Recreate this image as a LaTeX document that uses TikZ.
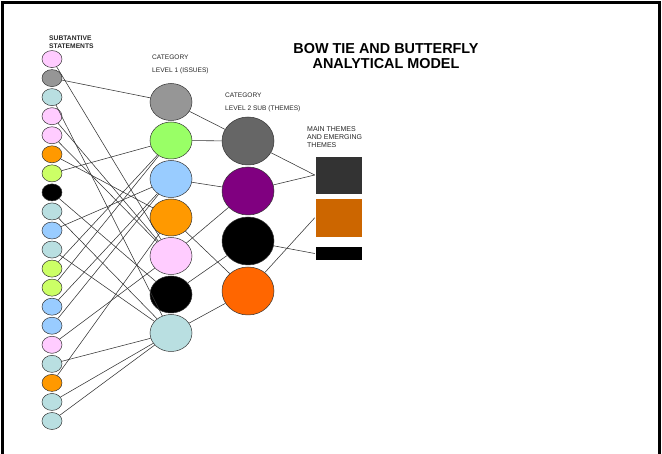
\documentclass[tikz,border=0pt]{standalone}
\usepackage{fontspec}
\setmainfont{Liberation Sans}
\usepackage{tikz}
\usetikzlibrary{positioning,shapes.geometric}
\definecolor{pinkc}{HTML}{FFCCFF}
\definecolor{grayc}{HTML}{969696}
\definecolor{tealc}{HTML}{B9DFE1}
\definecolor{orangec}{HTML}{FF9900}
\definecolor{ygc}{HTML}{CCFF66}
\definecolor{greenc}{HTML}{99FF66}
\definecolor{bluec}{HTML}{99CCFF}
\definecolor{dgrayc}{HTML}{666666}
\definecolor{purplec}{HTML}{800080}
\definecolor{redorc}{HTML}{FF6600}
\definecolor{darkc}{HTML}{333333}
\definecolor{brownc}{HTML}{CC6600}
\definecolor{linec}{HTML}{333333}

\begin{document}
\begin{tikzpicture}[x=1pt, y=-1pt,
  stmt/.style={ellipse, draw=linec, line width=0.5pt, minimum width=20pt, minimum height=17pt, inner sep=0pt},
  issue/.style={ellipse, draw=linec, line width=0.5pt, minimum width=42pt, minimum height=37pt, inner sep=0pt},
  theme/.style={ellipse, draw=linec, line width=0.5pt, minimum width=52pt, minimum height=48pt, inner sep=0pt},
  mainbox/.style={rectangle, draw=white, line width=0.5pt, minimum width=47pt, inner sep=0pt},
  lbl/.style={anchor=north west, align=left, inner sep=0pt, text=black!85},
  link/.style={draw=linec, line width=0.55pt}
]
\useasboundingbox (0,0) rectangle (662,454);
% frame
\draw[line width=3pt] (2,454) -- (2,3) -- (659,3) -- (659,454);

% title and headings
\node[align=center, font=\fontsize{14.4}{15}\selectfont\bfseries] (title) at (386,56) {BOW TIE AND BUTTERFLY\\ANALYTICAL MODEL};
\node[lbl, font=\fontsize{6.7}{7.7}\selectfont\bfseries] (hstmt) at (49,35.5) {SUBTANTIVE\\STATEMENTS};
\node[lbl, font=\fontsize{6.6}{12.7}\selectfont] (hiss) at (152,55) {CATEGORY\\LEVEL 1 (ISSUES)};
\node[lbl, font=\fontsize{6.6}{12.7}\selectfont] (hthm) at (225,93) {CATEGORY\\LEVEL 2 SUB (THEMES)};
\node[lbl, font=\fontsize{7}{8}\selectfont] (hmain) at (307,126.5) {MAIN THEMES\\AND EMERGING\\THEMES};

% substantive statements
\foreach \c [count=\i] in {pinkc,grayc,tealc,pinkc,pinkc,orangec,ygc,black,tealc,bluec,
                           tealc,ygc,ygc,bluec,bluec,pinkc,tealc,orangec,tealc,tealc}
  \node[stmt, fill=\c] (s\i) at (52,{40+19.05*\i}) {};

% level 1 (issues)
\node[issue, fill=grayc] (iss1) at (171,102) {};
\node[issue, fill=greenc, below=1pt of iss1] (iss2) {};
\node[issue, fill=bluec, below=1pt of iss2] (iss3) {};
\node[issue, fill=orangec, below=1pt of iss3] (iss4) {};
\node[issue, fill=pinkc, below=1pt of iss4] (iss5) {};
\node[issue, fill=black, below=1pt of iss5] (iss6) {};
\node[issue, fill=tealc, below=1pt of iss6] (iss7) {};

% level 2 (themes)
\node[theme, fill=dgrayc] (thm1) at (248,141) {};
\node[theme, fill=purplec, below=1.5pt of thm1] (thm2) {};
\node[theme, fill=black, below=1.5pt of thm2] (thm3) {};
\node[theme, fill=redorc, below=1.5pt of thm3] (thm4) {};

% main themes
\node[mainbox, fill=darkc, minimum height=38pt] (mt1) at (338.5,175) {};
\node[mainbox, fill=brownc, minimum height=38.5pt, below=4pt of mt1] (mt2) {};
\node[mainbox, fill=black, minimum height=14pt, below=9pt of mt2] (mt3) {};

% links
\foreach \a/\b in {1/5,2/1,3/7,4/5,5/5,6/4,7/2,8/6,9/7,10/3,
                   11/7,12/2,13/2,14/3,15/3,16/5,17/7,18/4,19/7,20/7}
  \draw[link] (s\a) -- (iss\b);
\foreach \a/\b in {1/1,2/1,3/2,4/4,5/2,6/3,7/4}
  \draw[link] (iss\a) -- (thm\b);
\draw[link] (thm1) -- (mt1.west);
\draw[link] (thm2) -- (mt1.west);
\draw[link] (thm3) -- (mt3.west);
\draw[link] (thm4) -- (mt2.west);
\end{tikzpicture}
\end{document}
